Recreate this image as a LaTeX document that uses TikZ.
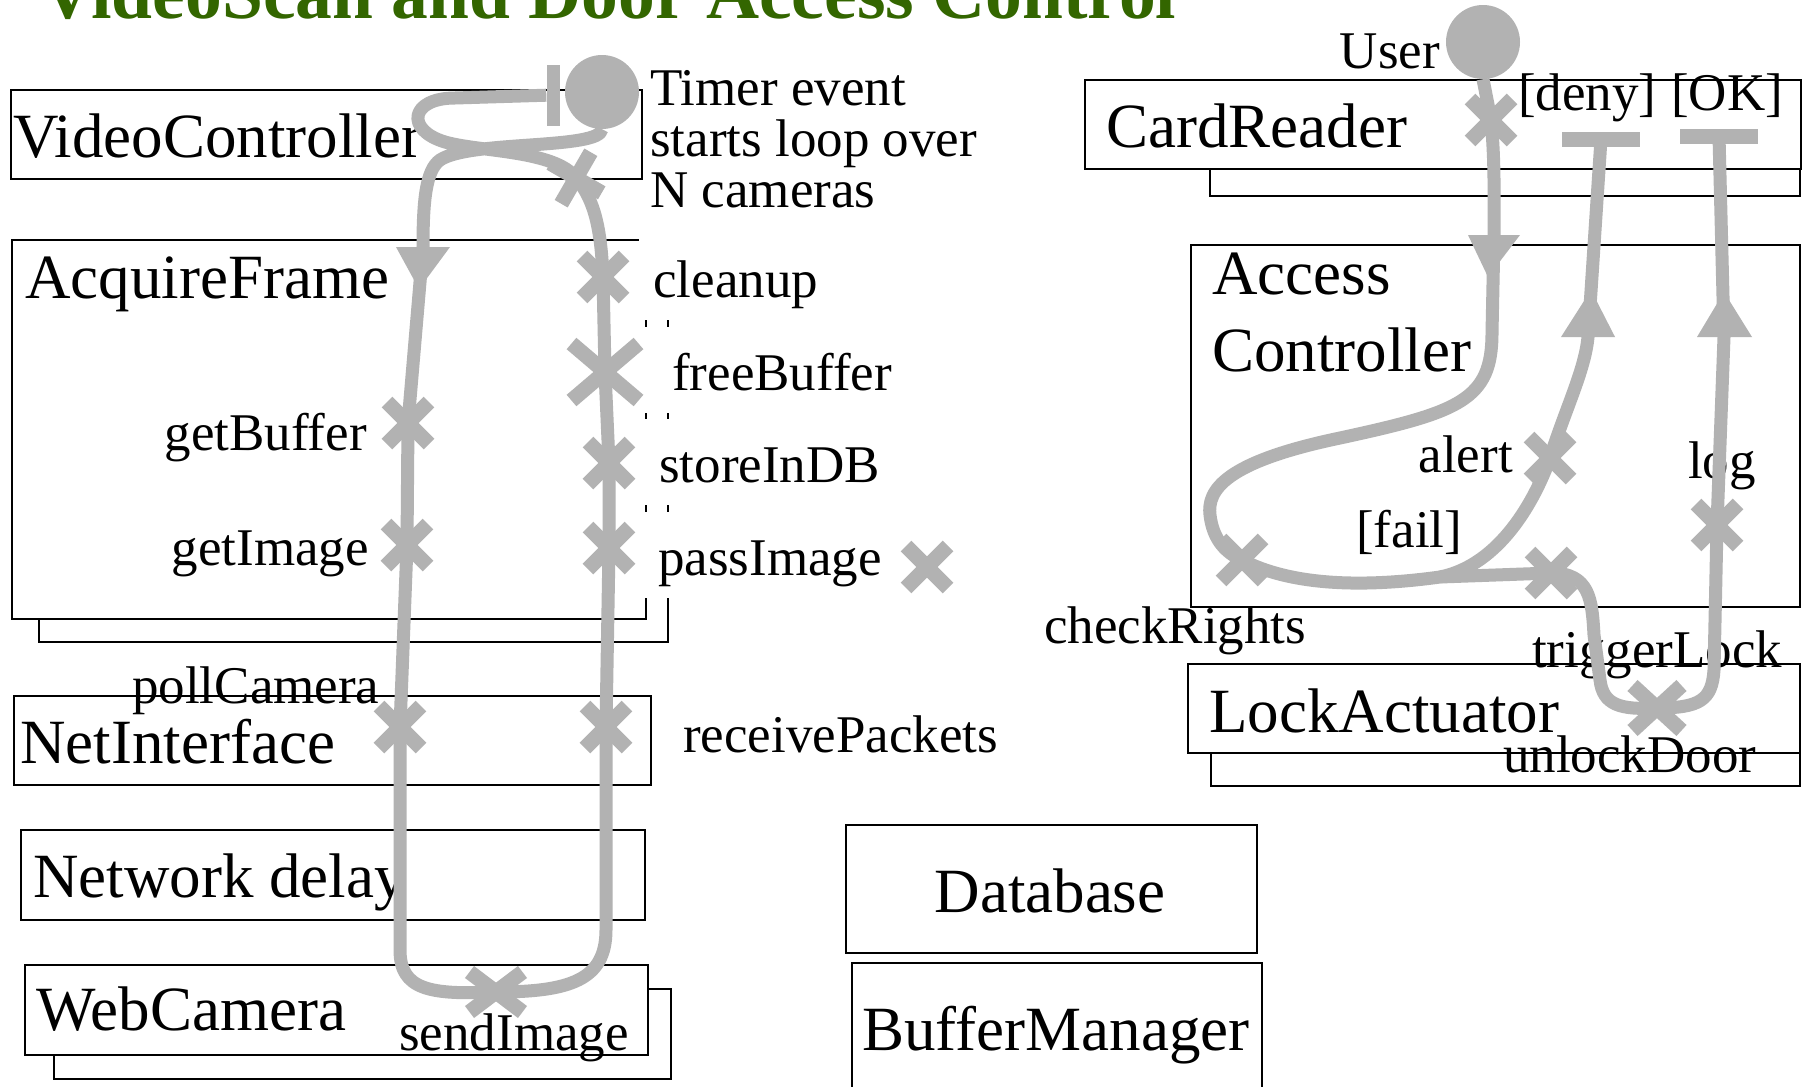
\documentclass[tikz,border=0pt]{standalone}
\usepackage{fontspec}
\setmainfont{Liberation Serif}
\usetikzlibrary{shapes.misc}
\definecolor{ucmgray}{RGB}{178,178,178}
\definecolor{titlegreen}{RGB}{51,102,0}

\begin{document}
\begin{tikzpicture}[x=1bp, y=1bp]
    \tikzset{
        comp/.style={draw, fill=white, line width=2bp, rectangle, anchor=north west, inner sep=0},
        comptext/.style={font=\fontsize{63bp}{77bp}\selectfont, inner sep=0},
        lbl/.style={font=\fontsize{53bp}{51bp}\selectfont, inner sep=0},
        lblw/.style={lbl, fill=white, text height=50bp, text depth=10bp, inner xsep=14bp, inner ysep=13bp},
        ucmpath/.style={draw=ucmgray, line width=13bp, line join=round},
        resp/.style={cross out, draw=ucmgray, line width=15bp, minimum size=27bp, inner sep=0},
        startpt/.style={circle, fill=ucmgray, minimum size=74bp, inner sep=0},
        endbar/.style={rectangle, fill=ucmgray, inner sep=0}
    }
    \useasboundingbox (0,0) rectangle (1808,-1086);

    \node [comp, minimum width=631bp, minimum height=89bp] (vcBox) at (10,-89) {};
    \node [comp, minimum width=629bp, minimum height=379bp] (acqBack) at (38,-262) {};
    \node [comp, minimum width=634bp, minimum height=379bp] (acqBox) at (11,-239) {};
    \node [comp, minimum width=637bp, minimum height=89bp] (netBox) at (13,-695) {};
    \node [comp, minimum width=624bp, minimum height=90bp] (delayBox) at (20,-829) {};
    \node [comp, minimum width=617bp, minimum height=90bp] (camBack) at (53,-988) {};
    \node [comp, minimum width=623bp, minimum height=90bp] (camBox) at (24,-964) {};
    \node [comp, minimum width=411bp, minimum height=128bp] (dbBox) at (845,-824) {};
    \node [comp, minimum width=410bp, minimum height=140bp] (bufBox) at (851,-962) {};
    \node [comp, minimum width=590bp, minimum height=93bp] (crdBack) at (1209,-102) {};
    \node [comp, minimum width=716bp, minimum height=89bp] (crdBox) at (1084,-79) {};
    \node [comp, minimum width=609bp, minimum height=362bp] (accBox) at (1190,-244) {};
    \node [comp, minimum width=589bp, minimum height=99bp] (lockBack) at (1210,-686) {};
    \node [comp, minimum width=612bp, minimum height=89bp] (lockBox) at (1187,-663) {};

    \node [comptext, anchor=base west] (vcText) at (13,-157) {VideoController};
    \node [comptext, anchor=base west] (acqText) at (25,-298) {AcquireFrame};
    \node [comptext, anchor=base west] (netText) at (20,-763) {NetInterface};
    \node [comptext, anchor=base west] (delayText) at (33,-897) {Network delay};
    \node [comptext, anchor=base west] (camText) at (36,-1030) {WebCamera};
    \node [comptext, anchor=base] (dbText) at (1050,-912) {Database};
    \node [comptext, anchor=base] (bufText) at (1056,-1050) {BufferManager};
    \node [comptext, anchor=base west] (crdText) at (1106,-147) {CardReader};
    \node [comptext, anchor=north west, align=left] (accText) at (1212,-253) {Access\\Controller};
    \node [comptext, anchor=base west] (lockText) at (1209,-732) {LockActuator};

    \node [lbl, anchor=north west, align=left] (timerNote) at (650,-70) {Timer event\\starts loop over\\N cameras};
    \node [lbl, anchor=base east] (getBufL) at (367,-450) {getBuffer};
    \node [lbl, anchor=base east] (getImgL) at (369,-565) {getImage};
    \node [lbl, anchor=base west] (pollL) at (132,-703) {pollCamera};
    \node [lbl, anchor=base west] (sendL) at (399,-1050) {sendImage};
    \node [lblw, anchor=base west] (cleanL) at (639,-297) {cleanup};
    \node [lblw, anchor=base west, inner xsep=30bp] (freeL) at (642,-390) {freeBuffer};
    \node [lblw, anchor=base west] (storeL) at (645,-482) {storeInDB};
    \node [lblw, anchor=base west] (passL) at (644,-575) {passImage};
    \node [lbl, anchor=base west] (recvL) at (683,-752) {receivePackets};
    \node [lbl, anchor=base east] (userL) at (1440,-68) {User};
    \node [lbl, anchor=base west] (denyL) at (1518,-110) {[deny]};
    \node [lbl, anchor=base west] (okL) at (1671,-110) {[OK]};
    \node [lbl, anchor=base east] (alertL) at (1513,-472) {alert};
    \node [lbl, anchor=base west] (failL) at (1356,-547) {[fail]};
    \node [lbl, anchor=base west] (logL) at (1688,-478) {log};
    \node [lbl, anchor=base west] (chkL) at (1044,-643) {checkRights};
    \node [lbl, anchor=base west] (trigL) at (1532,-667) {triggerLock};
    \node [lbl, anchor=base west] (unlL) at (1503,-772) {unlockDoor};

    \node [startpt] (tStart) at (602,-92) {};
    \node [startpt] (uStart) at (1483,-42) {};
    \node [endbar, minimum width=13bp, minimum height=61bp] (vcEnd) at (553,-95) {};
    \node [endbar, minimum width=78bp, minimum height=15bp] (denyEnd) at (1601,-139) {};
    \node [endbar, minimum width=78bp, minimum height=15bp] (okEnd) at (1719,-136) {};

    \node [resp] (getBufX) at (408,-423) {};
    \node [resp] (getImgX) at (407,-545) {};
    \node [resp] (pollX) at (400,-727) {};
    \node [resp, minimum width=38bp, minimum height=25bp] (sendX) at (496,-992) {};
    \node [resp] (recvX) at (606,-727) {};
    \node [resp] (passX) at (609,-548) {};
    \node [resp] (storeX) at (609,-463) {};
    \node [resp, minimum width=52bp, minimum height=42bp] (freeX) at (605,-372) {};
    \node [resp] (cleanX) at (603,-277) {};
    \node [resp, rotate=15] (vcX) at (576,-178) {};
    \node [resp] (strayX) at (927,-567) {};
    \node [resp] (crdX) at (1491,-120) {};
    \node [resp] (chkX) at (1242,-560) {};
    \node [resp] (alertX) at (1550,-458) {};
    \node [resp] (trigX) at (1551,-573) {};
    \node [resp, minimum width=34bp, minimum height=30bp] (unlX) at (1657,-708) {};
    \node [resp] (logX) at (1717,-525) {};

    \coordinate (vcArr) at (423,-247);
    \coordinate (uArr) at (1494,-235);
    \coordinate (denyArr) at (1588,-337);
    \coordinate (okArr) at (1724,-337);
    \coordinate (fork) at (1440,-577);

    \draw [ucmpath] (tStart.south) .. controls (600,-150) and (470,-140) .. (440,-160)
        .. controls (426,-170) and (423,-200) .. (vcArr)
        -- (getBufX.center) -- (getImgX.center) -- (pollX.center) -- (400,-950)
        .. controls (400,-990) and (430,-995) .. (sendX.center)
        .. controls (570,-992) and (606,-980) .. (606,-930)
        -- (recvX.center) -- (passX.center) -- (storeX.center) -- (freeX.center) -- (cleanX.center)
        .. controls (601,-230) and (595,-200) .. (vcX.center)
        .. controls (555,-150) and (480,-152) .. (445,-142)
        .. controls (405,-130) and (410,-98) .. (455,-98) -- (vcEnd);
    \draw [ucmpath] (uStart.south) -- (crdX.center) .. controls (1495,-160) and (1494,-200) .. (uArr)
        -- (1492,-333) .. controls (1492,-400) and (1460,-412) .. (1340,-438)
        .. controls (1225,-462) and (1207,-490) .. (1210,-515)
        .. controls (1213,-540) and (1226,-553) .. (chkX.center)
        .. controls (1290,-585) and (1360,-588) .. (fork)
        -- (trigX.center) .. controls (1590,-573) and (1592,-600) .. (1594,-635)
        -- (1600,-680) .. controls (1603,-705) and (1620,-710) .. (unlX.center)
        .. controls (1700,-708) and (1712,-700) .. (1714,-670)
        -- (logX.center) -- (okArr) -- (okEnd);
    \draw [ucmpath] (fork) .. controls (1500,-565) and (1535,-500) .. (alertX.center)
        .. controls (1565,-410) and (1585,-370) .. (denyArr) -- (denyEnd);

    \fill [ucmgray] (vcArr) ++(-27,0) -- ++(54,0) -- ++(-31,-42) -- cycle;
    \fill [ucmgray] (uArr) ++(-26,0) -- ++(52,0) -- ++(-32,-42) -- cycle;
    \fill [ucmgray] (denyArr) ++(-27,0) -- ++(54,0) -- ++(-24,47) -- cycle;
    \fill [ucmgray] (okArr) ++(-27,0) -- ++(55,0) -- ++(-28,45) -- cycle;

    \node [font=\fontsize{73.5bp}{80bp}\selectfont\bfseries, text=titlegreen, anchor=base west, inner sep=0] (title) at (41,-18) {VideoScan and Door Access Control};
\end{tikzpicture}
\end{document}
